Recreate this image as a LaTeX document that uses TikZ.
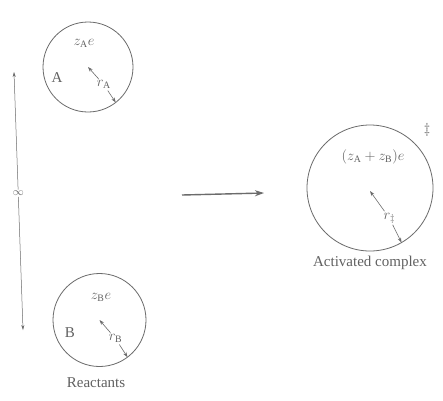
\documentclass[tikz,border=0pt]{standalone}
\usepackage{fontspec}
\setmainfont{Liberation Serif}
\usetikzlibrary{arrows.meta,calc}
\definecolor{ink}{gray}{0.42}
\definecolor{txt}{gray}{0.38}
\begin{document}
\begin{tikzpicture}[x=1pt,y=1pt,
  every node/.style={text=txt,font=\fontsize{14}{16}\selectfont},
  sphere/.style={draw=ink,line width=0.8pt,circle,inner sep=0pt},
  rad/.style={draw=ink,line width=0.6pt},
  radtip/.style={-{Stealth[length=5pt,width=3.5pt]}},
  lab/.style={inner sep=1.5pt},
  big/.style={font=\fontsize{15}{17}\selectfont},
  small/.style={font=\fontsize{11}{13}\selectfont},
  inflen/.style={draw=ink,line width=0.5pt,-{Stealth[length=5pt,width=3pt]}},
  react/.style={draw=ink,line width=1.4pt,-{Stealth[length=9pt,width=6pt]}}]
\useasboundingbox[fill=white] (0,0) rectangle (443,-400);

% sphere A
\node[sphere,minimum size=90pt] (A) at (88,-67) {};
\coordinate (Aedge) at ($(A.center)+(-52:45)$);
\node[lab] (zA) at (84,-43) {$z_{\mathrm{A}}e$};
\node[big] (Alab) at (57,-78) {A};
\node[lab] (rA) at ($(A.center)!0.5!(Aedge)+(2,0)$) {$r_{\mathrm{A}}$};
\draw[rad,radtip] (rA) -- (A.center);
\draw[rad,radtip] (rA) -- (Aedge);

% sphere B
\node[sphere,minimum size=93pt] (B) at (99.5,-320) {};
\coordinate (Bedge) at ($(B.center)+(-53:46.5)$);
\node[lab] (zB) at (101,-297) {$z_{\mathrm{B}}e$};
\node[big] (Blab) at (70,-333) {B};
\node[lab] (rB) at ($(B.center)!0.5!(Bedge)+(2,0)$) {$r_{\mathrm{B}}$};
\draw[rad,radtip] (rB) -- (B.center);
\draw[rad,radtip] (rB) -- (Bedge);
\node[big] (reac) at (96,-383) {Reactants};

% infinite separation
\coordinate (inftop) at (14,-72);
\coordinate (infbot) at (23,-330);
\node[small,inner sep=1pt,fill=white] (inf) at ($(inftop)!0.47!(infbot)$) {$\infty$};
\draw[inflen] (inf) -- (inftop);
\draw[inflen] (inf) -- (infbot);

% reaction arrow
\coordinate (rstart) at (182,-195);
\coordinate (rend) at (264,-193);
\draw[react] (rstart) -- (rend);

% activated complex
\node[sphere,minimum size=126pt] (C) at (370,-188) {};
\coordinate (Cedge) at ($(C.center)+(-60:63)$);
\node[lab] (zAB) at (373,-157) {$(z_{\mathrm{A}}+z_{\mathrm{B}})e$};
\node[lab] (dag) at (427,-130) {$\ddagger$};
\node[lab] (rC) at ($(C.center)!0.55!(Cedge)+(2,0)$) {$r_{\ddagger}$};
\draw[rad,radtip] (rC) -- ($(C.center)+(0,-3)$);
\draw[rad,radtip] (rC) -- (Cedge);
\node[big] (act) at (370,-263) {Activated complex};
\end{tikzpicture}
\end{document}
